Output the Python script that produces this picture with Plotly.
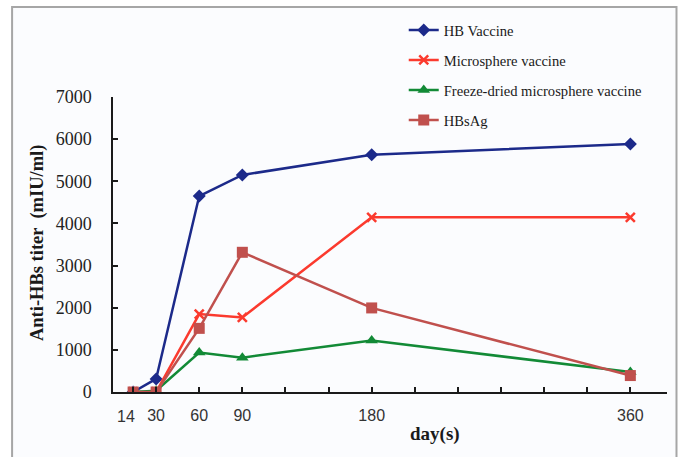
import plotly.graph_objects as go

days = [14, 30, 60, 90, 180, 360]
hb_vaccine = [0, 310, 4650, 5150, 5630, 5885]
microsphere = [0, 0, 1850, 1770, 4145, 4145]
freeze_dried = [0, 30, 935, 815, 1220, 475]
hbsag = [0, 0, 1510, 3315, 1995, 390]

x_tickvals = [14, 30, 60, 90, 120, 150, 180, 210, 240, 270, 300, 330, 360, 385]
x_ticktext = ["", "30", "60", "90", "", "", "180", "", "", "", "", "", "360", ""]
y_tickvals = [0, 1000, 2000, 3000, 4000, 5000, 6000, 7000]

series = [
    ("HB Vaccine", hb_vaccine, "#1c2a8a", "diamond", 10),
    ("Microsphere vaccine", microsphere, "#fb3a2e", "x-thin", 9),
    ("Freeze-dried microsphere vaccine", freeze_dried, "#128a36", "triangle-up", 11),
    ("HBsAg", hbsag, "#c0504d", "square", 11),
]

fig = go.Figure()
for i, (name, vals, color, sym, size) in enumerate(series):
    fig.add_trace(go.Scatter(
        x=days, y=vals, name=name, mode="lines+markers",
        legendgroup=f"g{i}",
        line=dict(color=color, width=2.5),
        marker=dict(symbol=sym, size=size, color=color,
                    line=dict(color=color, width=2.5 if sym == "x-thin" else 0)),
    ))

W0, W1 = 113, 667.5
T0, B0 = 97, 392
pw = W1 - W0
ph = B0 - T0

def px(x):
    return (x - W0) / pw

def py(y):
    return (B0 - y) / ph

fig.update_layout(
    width=684, height=457,
    margin=dict(l=W0, r=684 - W1, t=T0, b=457 - B0),
    paper_bgcolor="white",
    plot_bgcolor="rgba(0,0,0,0)",
    showlegend=True,
    legend=dict(
        x=px(404), y=py(14), xanchor="left", yanchor="top",
        traceorder="grouped", tracegroupgap=8,
        font=dict(family="Liberation Serif", size=14.6, color="#1a1a1a"),
        bgcolor="rgba(0,0,0,0)", itemwidth=30,
    ),
    xaxis=dict(
        range=[0, 385.5], tickmode="array", tickvals=x_tickvals, ticktext=x_ticktext,
        ticks="inside", ticklen=5, tickwidth=1.5, tickcolor="#1a1a1a",
        showline=True, linecolor="#1a1a1a", linewidth=1.5,
        showgrid=False, zeroline=False,
        tickfont=dict(family="Liberation Sans", size=16, color="#333333"),
        ticklabelstandoff=8,
    ),
    yaxis=dict(
        range=[0, 7000], tickmode="array", tickvals=y_tickvals,
        ticks="inside", ticklen=5, tickwidth=1.5, tickcolor="#1a1a1a",
        showline=True, linecolor="#1a1a1a", linewidth=1.5,
        showgrid=False, zeroline=False,
        tickfont=dict(family="Liberation Serif", size=18, color="#222222"),
        ticklabelstandoff=16,
    ),
    shapes=[dict(
        type="rect", xref="paper", yref="paper", layer="below",
        x0=px(12), x1=px(677), y0=py(470), y1=py(7),
        line=dict(color="#a6a6a6", width=2), fillcolor="#fbfcfe",
    )],
    annotations=[
        dict(text="14", xref="x", yref="paper", x=days[0], xshift=-7,
             y=py(416.5), xanchor="center", yanchor="middle", showarrow=False,
             font=dict(family="Liberation Sans", size=16, color="#333333")),
        dict(text="<b>Anti-HBs titer  (mIU/ml)</b>", xref="paper", yref="paper",
             x=px(37), y=py(243), xanchor="center", yanchor="middle",
             textangle=-90, showarrow=False,
             font=dict(family="Liberation Serif", size=18.5, color="#1a1a1a")),
        dict(text="<b>day(s)</b>", xref="paper", yref="paper",
             x=px(435), y=py(434), xanchor="center", yanchor="middle",
             showarrow=False,
             font=dict(family="Liberation Serif", size=19, color="#1a1a1a")),
    ],
)

fig.write_html("out.html")
